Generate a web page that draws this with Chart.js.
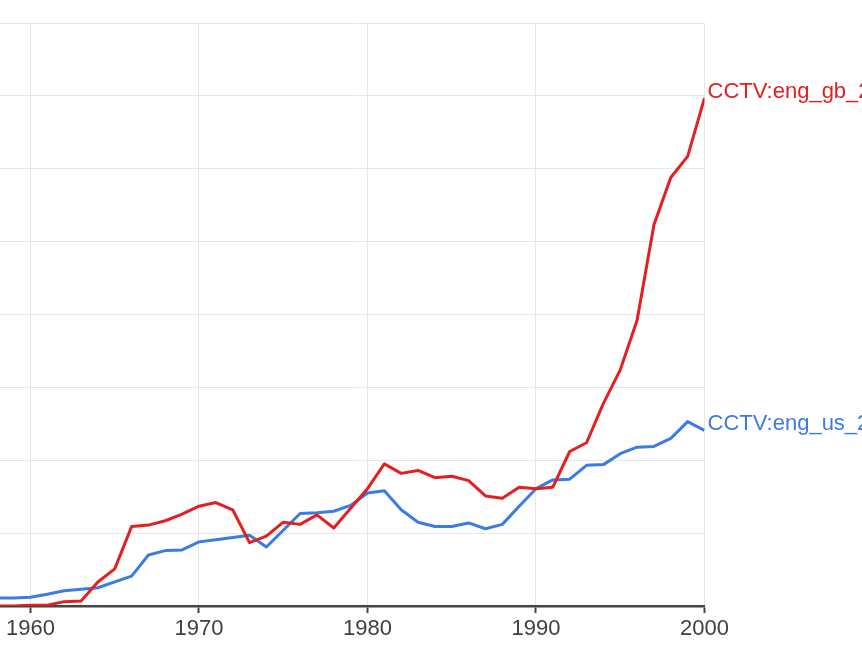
<!DOCTYPE html>
<html>
<head>
<meta charset="utf-8">
<script src="https://cdn.jsdelivr.net/npm/chart.js@4/dist/chart.umd.min.js"></script>
<style>
  html, body { margin: 0; padding: 0; background: #fff; }
  #wrap { width: 862px; height: 652px; }
</style>
</head>
<body>
<div id="wrap"><canvas id="chart"></canvas></div>
<script>
// years shown (the view starts a little before 1960 and is cut at the left edge)
const years = [];
for (let y = 1958; y <= 2000; y++) years.push(y);

const xTicks = [1960, 1970, 1980, 1990, 2000];

// relative frequency, arbitrary units (gridline step = 1)
const gbValues = [0.00, 0.00, 0.01, 0.01, 0.06, 0.07, 0.33, 0.51, 1.09, 1.11,
                  1.17, 1.26, 1.37, 1.42, 1.32, 0.87, 0.96, 1.15, 1.12, 1.25,
                  1.07, 1.34, 1.61, 1.95, 1.82, 1.86, 1.76, 1.78, 1.72, 1.51,
                  1.48, 1.63, 1.61, 1.63, 2.12, 2.24, 2.78, 3.24, 3.92, 5.23,
                  5.88, 6.17, 6.97];
const usValues = [0.11, 0.11, 0.12, 0.16, 0.21, 0.23, 0.25, 0.33, 0.41, 0.70,
                  0.76, 0.77, 0.88, 0.91, 0.94, 0.97, 0.81, 1.04, 1.27, 1.28,
                  1.30, 1.38, 1.55, 1.58, 1.32, 1.15, 1.09, 1.09, 1.14, 1.06,
                  1.12, 1.37, 1.61, 1.73, 1.74, 1.93, 1.94, 2.09, 2.18, 2.19,
                  2.30, 2.53, 2.41];

const seriesNames  = ['CCTV:eng_gb_2019', 'CCTV:eng_us_2019'];
const seriesColors = ['#e3201f', '#3b7be4'];

const FONT = '"Liberation Sans", Arial, Helvetica, sans-serif';

// writes each series name just right of its last point
const endLabels = {
  id: 'endLabels',
  afterDatasetsDraw(chart) {
    const ctx = chart.ctx;
    ctx.save();
    ctx.font = '22px ' + FONT;
    ctx.textBaseline = 'middle';
    ctx.textAlign = 'left';
    chart.data.datasets.forEach((ds, i) => {
      const pts = chart.getDatasetMeta(i).data;
      const last = pts[pts.length - 1];
      ctx.fillStyle = ds.borderColor;
      ctx.fillText(ds.label, last.x + 3, last.y - 6);
    });
    ctx.restore();
  }
};

new Chart(document.getElementById('chart'), {
  type: 'line',
  data: {
    datasets: [
      { label: seriesNames[0], data: years.map((y, i) => ({ x: y, y: gbValues[i] })), borderColor: seriesColors[0] },
      { label: seriesNames[1], data: years.map((y, i) => ({ x: y, y: usValues[i] })), borderColor: seriesColors[1] }
    ].map(d => ({ ...d, borderWidth: 3, pointRadius: 0, tension: 0, fill: false, borderJoinStyle: 'round' }))
  },
  options: {
    responsive: true,
    maintainAspectRatio: false,
    animation: false,
    events: [],
    layout: { padding: { left: 0, right: 157.5, top: 23, bottom: 0 } },
    plugins: { legend: { display: false }, tooltip: { enabled: false } },
    scales: {
      x: {
        type: 'linear',
        min: 1958.19,
        max: 2000,
        afterBuildTicks: s => { s.ticks = xTicks.map(v => ({ value: v })); },
        afterFit: s => { s.height = 46; },
        grid: { color: '#e6e6e6', lineWidth: 1, tickColor: '#444', tickLength: 7, tickWidth: 2 },
        border: { color: '#444', width: 2.5 },
        ticks: { autoSkip: false, maxRotation: 0, padding: 3, color: '#404040', font: { family: FONT, size: 22 }, callback: v => String(v) }
      },
      y: {
        min: 0,
        max: 8,
        ticks: { stepSize: 1, display: false },
        grid: { color: '#e6e6e6', lineWidth: 1, drawTicks: false },
        border: { display: false },
        afterFit: s => { s.width = 0; }
      }
    }
  },
  plugins: [endLabels]
});
</script>
</body>
</html>
